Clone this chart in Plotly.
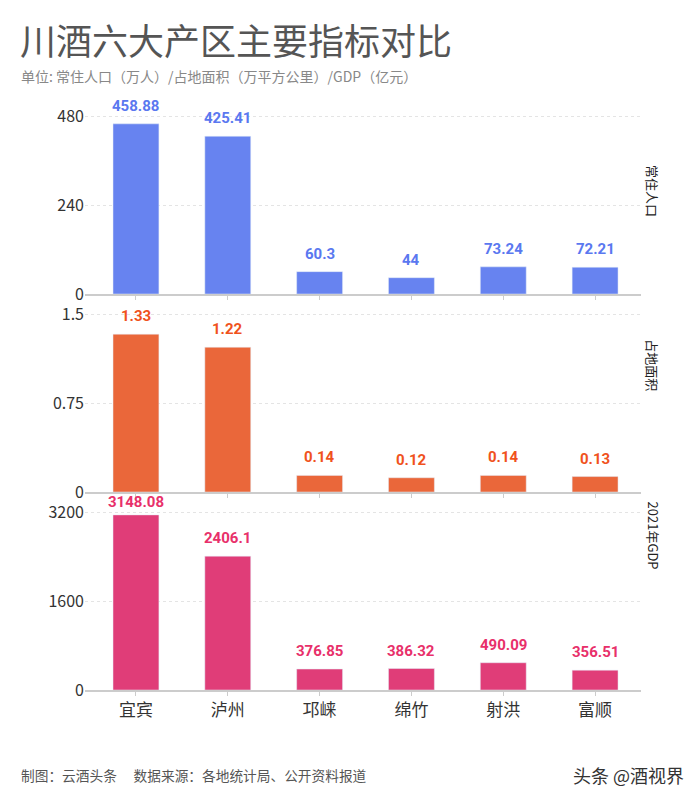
import plotly.graph_objects as go
from plotly.subplots import make_subplots

categories = ["宜宾", "泸州", "邛崃", "绵竹", "射洪", "富顺"]
population = [458.88, 425.41, 60.3, 44, 73.24, 72.21]
area = [1.33, 1.22, 0.14, 0.12, 0.14, 0.13]
gdp = [3148.08, 2406.1, 376.85, 386.32, 490.09, 356.51]
pop_labels = ["458.88", "425.41", "60.3", "44", "73.24", "72.21"]
area_labels = ["1.33", "1.22", "0.14", "0.12", "0.14", "0.13"]
gdp_labels = ["3148.08", "2406.1", "376.85", "386.32", "490.09", "356.51"]
panel_titles = ["常住人口", "占地面积", "2021年GDP"]
tick_sets = [[0, 240, 480], [0, 0.75, 1.5], [0, 1600, 3200]]
tick_text_sets = [["0", "240", "480"], ["0", "0.75", "1.5"], ["0", "1600", "3200"]]

bar_colors = ["#6783F0", "#EA673A", "#E03D78"]
label_colors = ["#5A78F0", "#F0521C", "#E8306A"]

series = [population, area, gdp]
labels = [pop_labels, area_labels, gdp_labels]

# page is offset by 8px body margin
OFF = 8
PLOT_LEFT, PLOT_RIGHT, PLOT_TOP, PLOT_BOTTOM = 85, 641, 96, 690
L, T = PLOT_LEFT - OFF, PLOT_TOP - OFF
R, B = 700 - (PLOT_RIGHT - OFF), 800 - (PLOT_BOTTOM - OFF)
plot_w = 700 - L - R
plot_h = 800 - T - B
PANEL_H = plot_h / 3


def px_to_paper(xp, yp):
    xp -= OFF
    yp -= OFF
    return (xp - L) / plot_w, (800 - B - yp) / plot_h


fig = make_subplots(rows=3, cols=1, shared_xaxes=True, vertical_spacing=0)

title_pos = [0.52, 0.64, 0.78]
for i in range(3):
    sfx = '' if i == 0 else str(i + 1)
    fig.add_trace(go.Bar(x=categories, y=series[i], marker_color=bar_colors[i],
                         width=0.5, showlegend=False, hoverinfo="skip"), row=i + 1, col=1)
    top = tick_sets[i][-1] * PANEL_H / (PANEL_H - 20)
    for c, v, t in zip(categories, series[i], labels[i]):
        bar_px = v / top * PANEL_H
        shift = min(7, PANEL_H - 4 - 17 - bar_px)
        fig.add_annotation(x=c, y=v, text=t, showarrow=False, yanchor="bottom",
                           yshift=shift, xref="x" + sfx, yref="y" + sfx,
                           font=dict(family="Roboto", size=15, color=label_colors[i], weight="bold"))
    fig.update_yaxes(range=[0, top], tickvals=tick_sets[i], ticktext=tick_text_sets[i],
                     showgrid=True, gridcolor="#e4e4e4", griddash="dot", gridwidth=1,
                     zeroline=False, showline=False,
                     tickfont=dict(family="Noto Sans CJK SC", size=16, color="#333"),
                     ticks="", row=i + 1, col=1)
    fig.update_xaxes(range=[-0.555, 5.5], showline=True, linecolor="#cccccc", linewidth=2,
                     ticks="outside", ticklen=4, tickcolor="#cccccc", showgrid=False,
                     tickfont=dict(family="Noto Sans CJK SC", size=17, color="#333"),
                     row=i + 1, col=1)
    x, _ = px_to_paper(653, 0)
    fig.add_annotation(xref="paper", yref="y" + sfx + " domain", xanchor="center", yanchor="middle",
                       x=x, y=title_pos[i], text=panel_titles[i], textangle=90, showarrow=False,
                       font=dict(family="Noto Sans CJK SC", size=13, color="#222"))

fig.update_layout(
    width=700, height=800,
    margin=dict(l=L, r=R, t=T, b=B),
    plot_bgcolor="white", paper_bgcolor="white",
)

x, y = px_to_paper(18, 39)
fig.add_annotation(xref="paper", yref="paper", x=x, y=y, xanchor="left", yanchor="middle",
                   text="川酒六大产区主要指标对比", showarrow=False,
                   font=dict(family="Noto Sans CJK SC", size=36, color="#555"))
x, y = px_to_paper(19, 76)
fig.add_annotation(xref="paper", yref="paper", x=x, y=y, xanchor="left", yanchor="middle",
                   text="单位: 常住人口（万人）/占地面积（万平方公里）/GDP（亿元）", showarrow=False,
                   font=dict(family="Noto Sans CJK SC", size=14, color="#888"))
x, y = px_to_paper(19, 775)
fig.add_annotation(xref="paper", yref="paper", x=x, y=y, xanchor="left", yanchor="middle",
                   text="制图：云酒头条　 数据来源：各地统计局、公开资料报道", showarrow=False,
                   font=dict(family="Noto Sans CJK SC", size=13.7, color="#555"))
x, y = px_to_paper(686, 775)
fig.add_annotation(xref="paper", yref="paper", x=x, y=y, xanchor="right", yanchor="middle",
                   text="头条 @酒视界", showarrow=False,
                   font=dict(family="Noto Sans CJK SC", size=18, color="#333"))

fig.write_html("out.html")
